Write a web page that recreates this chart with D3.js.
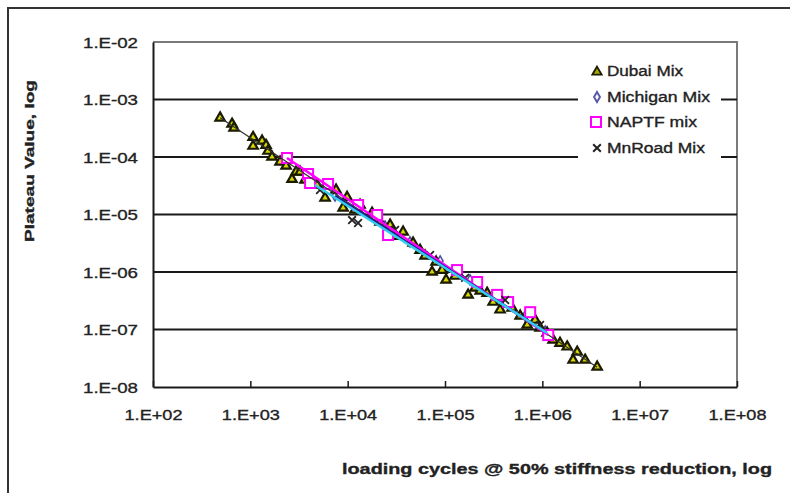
<!DOCTYPE html>
<html>
<head>
<meta charset="utf-8">
<script src="https://cdn.jsdelivr.net/npm/d3@7"></script>
<style>
  html, body { margin: 0; padding: 0; background: #fff; }
  text { font-family: Arial, "Liberation Sans", Helvetica, sans-serif; fill: #222; }
  .lbl { stroke: #222; stroke-width: 0.35; }
</style>
</head>
<body>
<div id="chart"></div>
<script>
// Values (x = loading cycles, y = plateau value)
const dubaiX = [489, 649, 680, 1067, 1067, 1320, 1450, 1520, 1670, 2020, 2330, 2680, 2950, 3240, 3650, 4850, 5860, 7600, 9860, 8980, 11900, 13400, 17800, 21500, 27300, 30700, 37100, 47000, 55500, 62400, 73600, 81000, 93300, 102600, 127000, 172600, 203700, 230000, 270800, 312000, 368000, 489000, 592000, 698000, 843000, 948000, 1120000, 1290000, 1520000, 1800000, 2070000, 2280000, 2750000, 3660000];
const dubaiY = [4.8e-4, 3.75e-4, 3.2e-4, 2.2e-4, 1.55e-4, 1.9e-4, 1.6e-4, 1.27e-4, 1.0e-4, 8.2e-5, 7.0e-5, 4.1e-5, 5.5e-5, 5.5e-5, 4.0e-5, 3.26e-5, 1.94e-5, 2.67e-5, 2.0e-5, 1.3e-5, 1.2e-5, 1.46e-5, 1.06e-5, 7.4e-6, 6.6e-6, 4.2e-6, 4.97e-6, 3.2e-6, 2.4e-6, 1.9e-6, 1.0e-6, 1.5e-6, 1.08e-6, 7.3e-7, 8.5e-7, 4.0e-7, 5.3e-7, 4.7e-7, 4.3e-7, 3.0e-7, 2.2e-7, 2.37e-7, 1.72e-7, 1.2e-7, 1.46e-7, 1.06e-7, 8.7e-8, 6.6e-8, 5.8e-8, 5.0e-8, 2.95e-8, 4.06e-8, 2.95e-8, 2.23e-8];

const michiganX = [7410, 13400, 24200, 43700, 89100, 181000, 368000, 665000, 1070000];
const michiganY = [2.1e-5, 1.2e-5, 6.3e-6, 3.33e-6, 1.55e-6, 7.3e-7, 3.4e-7, 1.72e-7, 9.4e-8];

const naptfX = [2380, 3920, 4110, 6290, 12800, 20100, 26000, 133000, 214000, 343000, 445000, 750000, 1150000];
const naptfY = [9.6e-5, 5.06e-5, 3.53e-5, 3.39e-5, 1.46e-5, 9.8e-6, 4.4e-6, 1.08e-6, 6.7e-7, 4.0e-7, 3.0e-7, 2.0e-7, 8.0e-8];

const mnroadX = [5200, 11100, 12800, 30700, 70300, 161000, 415000, 948000];
const mnroadY = [2.67e-5, 8.0e-6, 7.1e-6, 5.4e-6, 1.98e-6, 7.9e-7, 3.26e-7, 1.2e-7];

// Trend lines (end points)
const dubaiTrendX = [489, 3660000];
const dubaiTrendY = [4.8e-4, 2.2e-8];
const naptfTrendX = [2380, 1150000];
const naptfTrendY = [9.6e-5, 8.0e-8];
const michiganTrendX = [7410, 1100000];
const michiganTrendY = [2.1e-5, 8.9e-8];
const mnroadTrendX = [4620, 1120000];
const mnroadTrendY = [3.26e-5, 8.7e-8];

const xTicks = [1e2, 1e3, 1e4, 1e5, 1e6, 1e7, 1e8];
const yTicks = [1e-8, 1e-7, 1e-6, 1e-5, 1e-4, 1e-3, 1e-2];

const legendNames = ["Dubai Mix", "Michigan Mix", "NAPTF mix", "MnRoad Mix"];
const legendWidths = [76, 103, 90, 98];

const width = 790, height = 493;
const plot = { left: 153, right: 737, top: 42, bottom: 387 };

const svg = d3.select("#chart").append("svg")
    .attr("width", width)
    .attr("height", height);

// Outer frame (left and top edges only are visible)
svg.append("path")
    .attr("d", `M8,${height} L8,8 L${width},8`)
    .attr("fill", "none")
    .attr("stroke", "#333")
    .attr("stroke-width", 2);

const x = d3.scaleLog().domain([1e2, 1e8]).range([plot.left, plot.right]);
const y = d3.scaleLog().domain([1e-8, 1e-2]).range([plot.bottom, plot.top]);

const expFmt = d => {
    const e = Math.round(Math.log10(d));
    return "1.E" + (e >= 0 ? "+" : "-") + String(Math.abs(e)).padStart(2, "0");
};

// Plot border (grey, top and right)
svg.append("path")
    .attr("d", `M${plot.left},${plot.top} L${plot.right},${plot.top} L${plot.right},${plot.bottom}`)
    .attr("fill", "none")
    .attr("stroke", "#7a7a7a")
    .attr("stroke-width", 2);

// Gridlines
svg.append("g")
    .selectAll("line")
    .data(yTicks.filter(v => v > 1e-8 && v < 1e-2))
    .join("line")
    .attr("x1", plot.left)
    .attr("x2", plot.right)
    .attr("y1", d => y(d))
    .attr("y2", d => y(d))
    .attr("stroke", "#1a1a1a")
    .attr("stroke-width", 2);

// Y axis
const yAxis = svg.append("g")
    .attr("transform", `translate(${plot.left},0)`)
    .call(d3.axisLeft(y).tickValues(yTicks).tickFormat(expFmt).tickSize(0).tickPadding(15));
yAxis.select(".domain").attr("stroke", "#1a1a1a").attr("stroke-width", 2);
yAxis.selectAll("text")
    .attr("class", "lbl")
    .attr("font-size", 15)
    .attr("dy", "0.36em")
    .attr("fill", "#222")
    .attr("textLength", 55)
    .attr("lengthAdjust", "spacingAndGlyphs");

// X axis (ticks pointing inside)
const xAxis = svg.append("g")
    .attr("transform", `translate(0,${plot.bottom})`)
    .call(d3.axisBottom(x).tickValues(xTicks).tickFormat(expFmt).tickSizeInner(-6).tickSizeOuter(0).tickPadding(22));
xAxis.select(".domain").attr("stroke", "#1a1a1a").attr("stroke-width", 2);
xAxis.selectAll(".tick line").attr("stroke", "#1a1a1a").attr("stroke-width", 1.5);
xAxis.selectAll("text")
    .attr("class", "lbl")
    .attr("font-size", 15)
    .attr("dy", "0.36em")
    .attr("y", 28)
    .attr("fill", "#222")
    .attr("textLength", 58)
    .attr("lengthAdjust", "spacingAndGlyphs");

// Axis titles
svg.append("text")
    .attr("class", "lbl")
    .attr("transform", "translate(34,161) rotate(-90)")
    .attr("text-anchor", "middle")
    .attr("font-size", 13.5)
    .attr("font-weight", "bold")
    .attr("textLength", 162)
    .attr("lengthAdjust", "spacingAndGlyphs")
    .text("Plateau Value, log");

svg.append("text")
    .attr("class", "lbl")
    .attr("x", 557)
    .attr("y", 474)
    .attr("text-anchor", "middle")
    .attr("font-size", 15.5)
    .attr("font-weight", "bold")
    .attr("textLength", 430)
    .attr("lengthAdjust", "spacingAndGlyphs")
    .text("loading cycles @ 50% stiffness reduction, log");

// Symbols
const triangle = d3.symbol().type(d3.symbolTriangle).size(38);
const diamond = d3.symbol().type(d3.symbolDiamond).size(30);
const cross = d3.symbol().type(d3.symbolX).size(40);

const zip = (xs, ys) => xs.map((v, i) => [v, ys[i]]);
const line = d3.line().x(d => x(d[0])).y(d => y(d[1]));

const marks = svg.append("g");

// Michigan diamonds (mostly hidden beneath the others)
marks.append("g").selectAll("path")
    .data(zip(michiganX, michiganY))
    .join("path")
    .attr("d", diamond)
    .attr("transform", d => `translate(${x(d[0])},${y(d[1])})`)
    .attr("fill", "#fff")
    .attr("stroke", "#4a4aa0")
    .attr("stroke-width", 1.5);

// Dubai triangles
marks.append("g").selectAll("path")
    .data(zip(dubaiX, dubaiY))
    .join("path")
    .attr("d", triangle)
    .attr("transform", d => `translate(${x(d[0])},${y(d[1])})`)
    .attr("fill", "#d6d600")
    .attr("stroke", "#1a1a00")
    .attr("stroke-width", 2.2);

// NAPTF squares
marks.append("g").selectAll("rect")
    .data(zip(naptfX, naptfY))
    .join("rect")
    .attr("x", d => x(d[0]) - 5)
    .attr("y", d => y(d[1]) - 5)
    .attr("width", 10)
    .attr("height", 10)
    .attr("fill", "#fff")
    .attr("stroke", "#ff00ff")
    .attr("stroke-width", 2);

// MnRoad crosses
marks.append("g").selectAll("path")
    .data(zip(mnroadX, mnroadY))
    .join("path")
    .attr("d", cross)
    .attr("transform", d => `translate(${x(d[0])},${y(d[1])})`)
    .attr("fill", "none")
    .attr("stroke", "#222")
    .attr("stroke-width", 1.8);

// Trend lines
const trends = [
    { xs: dubaiTrendX, ys: dubaiTrendY, color: "#333", w: 1.2 },
    { xs: naptfTrendX, ys: naptfTrendY, color: "#ff00ff", w: 2.5 },
    { xs: michiganTrendX, ys: michiganTrendY, color: "#1a1a90", w: 2.5 },
    { xs: mnroadTrendX, ys: mnroadTrendY, color: "#33ccee", w: 2.5 }
];
marks.append("g").selectAll("path")
    .data(trends)
    .join("path")
    .attr("d", t => line(zip(t.xs, t.ys)))
    .attr("fill", "none")
    .attr("stroke", t => t.color)
    .attr("stroke-width", t => t.w);

// Legend
const legend = svg.append("g");
legend.append("rect")
    .attr("x", 578)
    .attr("y", 54)
    .attr("width", 143)
    .attr("height", 108)
    .attr("fill", "#fff");

const legendRows = legend.selectAll("g.row")
    .data(legendNames)
    .join("g")
    .attr("class", "row")
    .attr("transform", (d, i) => `translate(597,${[71, 97, 122, 148][i]})`);

legendRows.each(function (d, i) {
    const g = d3.select(this);
    if (i === 0) {
        g.append("path").attr("d", triangle).attr("transform", "translate(0,1)")
            .attr("fill", "#a8a800").attr("stroke", "#1a1a00").attr("stroke-width", 1.8);
    } else if (i === 1) {
        g.append("path").attr("d", diamond)
            .attr("fill", "#fff").attr("stroke", "#5a5aa8").attr("stroke-width", 2);
    } else if (i === 2) {
        g.append("rect").attr("x", -6).attr("y", -5).attr("width", 10).attr("height", 10)
            .attr("fill", "#fff").attr("stroke", "#ff00ff").attr("stroke-width", 2);
    } else {
        g.append("path").attr("d", cross)
            .attr("fill", "none").attr("stroke", "#222").attr("stroke-width", 2);
    }
    g.append("text")
        .attr("class", "lbl")
        .attr("x", 10)
        .attr("dy", "0.35em")
        .attr("font-size", 14)
        .attr("fill", "#333")
        .attr("textLength", legendWidths[i])
        .attr("lengthAdjust", "spacingAndGlyphs")
        .text(d);
});
</script>
</body>
</html>
